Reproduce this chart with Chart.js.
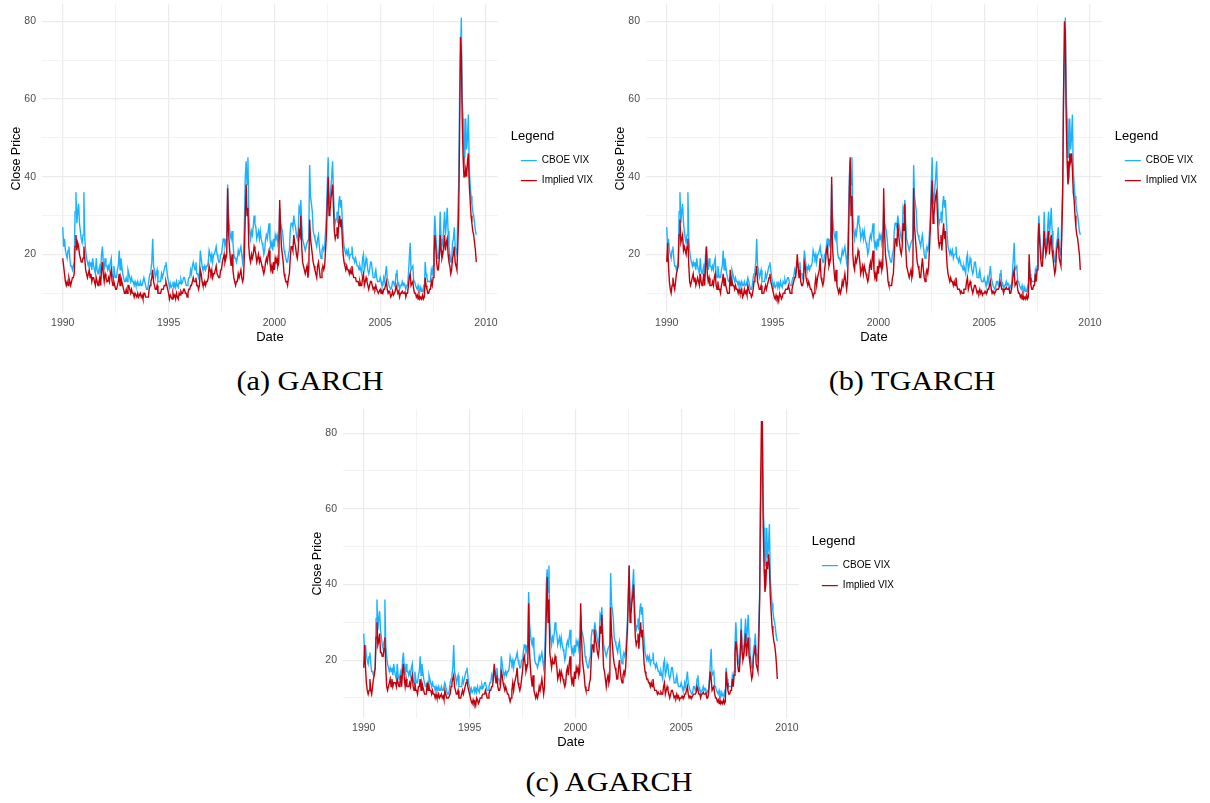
<!DOCTYPE html>
<html>
<head>
<meta charset="utf-8">
<script src="https://cdn.jsdelivr.net/npm/chart.js@4.4.1/dist/chart.umd.min.js"></script>
<style>
  body { margin: 0; background: #fff; width: 1210px; height: 803px; position: relative; overflow: hidden; }
  .panel { position: absolute; }
  .cap { position: absolute; width: 400px; text-align: center; font-family: "Liberation Serif", serif; font-size: 27px; color: #000; transform: scaleX(1.12); }
</style>
</head>
<body>
<div class="panel" style="left:0;top:-8px"><canvas id="chartA" width="604" height="352"></canvas></div>
<div class="panel" style="left:604px;top:-8px"><canvas id="chartB" width="604" height="352"></canvas></div>
<div class="panel" style="left:301px;top:397px"><canvas id="chartC" width="604" height="352"></canvas></div>
<div class="cap" style="left:110px;top:366px">(a) GARCH</div>
<div class="cap" style="left:712px;top:366px">(b) TGARCH</div>
<div class="cap" style="left:409px;top:767px">(c) AGARCH</div>
<script>
// half-monthly observations, Jan 1990 .. Jul 2009
const startYear = 1990;
const perYear = 24;

const cboeVix = [
  27,22,24,21,20,19,21,22,19,17,17,16,17,18,31,36,28,31,33,28,26,24,23,25,
  36,24,21,19,18,17,18,17,18,16,19,17,16,15,19,16,15,16,17,15,20,22,18,16,
  19,17,17,16,17,16,18,19,15,14,17,15,14,14,16,17,21,16,19,17,15,14,13,13,
  14,13,16,15,14,13,14,13,13,12,13,12,12,13,12,12,13,12,12,12,14,13,12,11,
  11,12,14,15,16,18,24,17,16,14,15,16,13,13,13,13,15,14,15,16,17,18,16,14,
  13,11.5,12.5,11.5,12,13,11.5,12.5,11.5,13,12,11.5,13,12.5,13.5,12.5,13,14,14,13,12,12,13,14,
  14,16,15,17,18,17,16,18,15,15,14,15,21,19,17,16,16,17,16,17,17,18,21,20,
  19,20,18,20,20,21,22,20,19,18,18,20,20,22,24,24,22,23,24,38,30,27,25,24,
  26,23,20,19,19,18,19,21,20,20,22,20,18,20,28,40,44,38,45,30,26,24,26,25,
  27,30,28,27,24,25,26,24,26,24,23,22,20,21,24,25,24,26,28,24,22,23,21,24,
  22,25,24,25,23,24,32,28,27,26,24,21,20,19,18,18,20,21,26,28,28,27,30,28,
  27,25,24,26,32,31,34,28,24,23,22,21,22,23,23,24,43,35,33,31,26,25,24,23,
  22,24,25,22,20,19,21,22,21,22,26,30,38,45,33,34,37,40,44,36,30,28,29,31,
  28,33,35,32,34,29,25,22,22,20,21,20,21,19,20,20,22,19,19,18,19,18,17,17,
  16,17,16,15,19,20,16,17,19,18,16,15,16,18,18,16,14,14,15,16,14,13,13,13,
  14,13,12,12,14,13,15,17,14,13,12,12,11,11.5,13,13,12,12.5,15,16,12,12.5,11,12,
  12,13,12,12.5,12,11,12,12,15,19,23,16,16,17,13,13,12,11.5,11,12,11,10.5,11.5,10.5,
  10.5,11.5,10,18,15,14,13,13,13,13,16,15,17,24,30,25,22,19,19,22,31,24,22,23,
  27,31,25,28,32,26,22,20,18,18,23,24,27,22,21,20,30,38,60,70,81,60,55,45,
  45,55,47,50,56,42,38,35,33,31,30,28,26,25
];

const impliedGarch = [
  19,17,15,13,12,13,12,14,13,12,13,14,14,15,22,25,21,23,22,20,19,18,18,19,
  22,19,16,15,14,15,16,14,15,13,14,14,13,12,14,13,12,13,14,12,16,18,15,13,
  15,14,13,13,14,13,15,16,13,12,13,12,11,11,12,13,15,12,14,13,12,11,10,10,
  11,10,12,12,11,10,11,10,10,9,10,10,9,10,9,9.5,10,9,9.5,8.5,10,10,9,9,
  9,9,11,12,13,14,16,13,12,11,11,12,10,10,10,10,11,11,11,12,12,13,12,11,
  10,8.5,9.5,9,8.5,10,9,9.5,8.5,10,9,8.5,10,9.5,10.5,10,10,11,11,10,10,9,10,11,
  11,12,12,13,14,13,13,14,12,12,11,12,16,15,13,12,12,13,12,13,13,14,17,16,
  15,16,14,15,15,16,17,15,15,14,14,16,16,18,19,20,18,19,20,37,26,22,19,17,
  20,16,14,13,12,13,13,15,14,14,16,14,13,14,20,30,38,30,32,22,19,18,20,19,
  20,22,21,20,18,19,20,18,19,18,17,16,15,16,18,19,18,20,21,18,16,17,15,18,
  16,19,18,19,17,18,34,27,22,20,18,15,14,13,13,12,14,15,19,22,22,21,25,23,
  22,20,19,21,26,25,30,22,18,17,16,15,16,17,14,16,29,24,22,20,18,17,16,15,
  14,17,18,16,14,14,16,17,16,17,21,25,33,40,30,31,34,36,38,32,26,24,25,27,
  24,28,30,27,29,24,20,18,17,16,17,16,16,15,16,15,17,15,14,14,14,13,13,13,
  12,13,12,12,14,15,12,13,14,13,12,11,12,13,13,12,11,11.5,11,12,11,10.5,10,10.5,
  11,10,10.5,10,11,11,12,13,11,10,10.5,10,9,9.5,10.5,9.5,10,10.5,12,12,10,10.5,9,10,
  10,10.5,10,10,10.5,9,10,10,12,14,15,12,12,13,11,10,10,9,9.5,8.5,9.5,8.5,9,8.5,
  9.5,8.5,9,14,12,11,10,10,11,11,13,12,14,20,25,22,18,16,16,19,25,21,19,20,
  22,25,21,23,24,20,18,17,15,16,19,20,22,18,17,16,22,30,50,76,72,55,45,40,
  40,42,40,44,46,38,34,30,28,26,25,23,21,18
];

const impliedTgarch = [
  18,23,17,13,11,10,12,14,12,11,13,15,16,17,25,29,23,24,25,21,22,21,20,22,
  24,17,13,12,13,14,15,13,14,12,13,14,13,12,15,13,12,13,15,12,17,22,15,13,
  14,12,12,12,13,12,14,15,12,11,13,11,11,10,12,13,15,12,14,12,11,10,10,10,
  16,12,13,12,12,11,12,11,11,10,11,10,10,11,9,9.5,11,10,10.5,9.5,12,11,10,10,
  9,9.5,11,13,14,15,17,13,12,11,11,12,10,10,10,11,12,11,12,13,14,15,13,12,
  11,10,9,8.5,9.5,8.5,9,8,10,9.5,8.5,9,10,10,10.5,11,11,11,12,11,10,10,11,12,
  13,14,14,16,20,17,14,16,13,12,12,13,18,17,14,13,12,13,12,11,11,10,9,10,
  12,14,12,14,15,16,19,14,13,12,13,16,18,21,22,19,17,18,19,40,22,18,15,13,
  16,12,11,10,11,10,11,13,12,12,15,13,11,13,22,35,45,30,35,20,17,16,19,18,
  19,21,20,18,15,16,17,15,17,16,15,14,13,14,17,18,16,19,21,16,14,15,13,17,
  15,18,17,18,16,17,37,26,20,18,16,13,12,12,12,12,14,15,20,24,24,22,28,25,
  23,21,20,22,28,26,33,22,17,16,15,14,15,16,14,15,37,27,24,21,18,17,16,14,
  14,17,19,16,14,13,15,16,15,17,22,27,34,39,28,30,33,35,36,30,24,22,23,25,
  21,25,28,24,26,21,17,15,15,13,14,13,13,12,13,12,14,12,11,11,11,10,10.5,10,
  10,11,11,11,13,14,11,12,13,12,11,10,11,12,12,11,10,10.5,10,11,10,10.5,9.5,10,
  10,10.5,10,10,11,11,12,13,11,10,10.5,10,10,10.5,11,11,11,11.5,13,13,11,11,10,11,
  11,11.5,11,11,11.5,10,10,11,13,15,16,12,12,13,11,10,10,9,9.5,8.5,9.5,8.5,9,8.5,
  9.5,8.5,9,20,14,12,11,11,12,12,15,13,16,22,28,23,19,17,17,21,26,22,20,21,
  24,26,20,23,25,21,19,17,15,16,21,22,24,19,18,17,25,35,62,80,77,55,44,38,
  40,46,44,46,42,36,34,30,27,25,24,22,20,16
];

const impliedAgarch = [
  18,24,18,14,12,11,12,15,12,11,13,15,16,18,26,30,24,25,27,22,22,21,21,23,
  26,18,13,12,13,14,15,13,15,13,14,14,14,13,15,14,13,14,16,13,17,19,15,13,
  15,13,13,13,14,13,15,16,13,12,14,12,12,11,13,13,15,12,14,13,12,11,11,11,
  14,12,13,12,12,11,12,11,11,10,11,10,10,11,10,10.5,11,10,10.5,9.5,12,11,10,10,
  10,10.5,11,13,14,15,16,13,12,11,11,12,10,10,10,11,12,11,12,13,14,15,13,12,
  11,10,9,8.5,9.5,8.5,9,8,10,9.5,8.5,9,10,10,10.5,11,11,11,12,11,10,10,11,12,
  12,13,13,15,19,16,14,16,13,12,12,13,17,16,14,13,12,13,12,11,11,10,9,10,
  12,14,12,14,15,16,18,14,13,12,13,15,17,20,21,19,17,18,19,35,22,18,15,13,
  16,12,11,10,11,10,11,13,12,12,15,13,11,13,22,32,42,30,36,22,20,18,20,19,
  19,21,20,18,15,16,17,15,17,16,15,14,13,14,17,18,16,19,21,16,14,15,13,17,
  15,18,17,18,16,17,35,26,20,18,16,13,12,12,12,12,14,15,20,24,24,22,28,25,
  24,22,21,23,29,27,32,24,18,17,15,13,15,16,14,15,34,27,24,21,19,18,17,15,
  15,18,20,17,15,14,16,17,16,18,23,28,36,45,30,32,35,37,40,32,26,24,25,27,
  23,27,30,26,28,23,19,17,16,15,15,14,14,13,14,13,15,13,12,12,12,11,11.5,11,
  11,11.5,11,11,13,14,11,12,13,12,11,10,11,12,12,11,10,10.5,10,11,10,10.5,9.5,10,
  10,10.5,10,10,11,11,12,13,11,10,10.5,10,10,10.5,11,11,11,11.5,13,13,11,11,10,11,
  11,11.5,11,11,11.5,10,10,11,14,17,15,12,12,13,11,10,10,9,9.5,8.5,9.5,8.5,9,8.5,
  9.5,8.5,9,17,14,12,11,11,12,12,15,13,16,22,25,23,19,17,17,22,28,22,20,21,
  24,27,21,24,26,21,19,17,15,16,21,22,24,19,18,17,25,36,65,83,83,55,44,38,
  40,46,44,48,45,37,33,29,27,25,24,22,19,15
];

const xTicks = [1990, 1992.5, 1995, 1997.5, 2000, 2002.5, 2005, 2007.5, 2010];
const yTicks = [10, 20, 30, 40, 50, 60, 70, 80];

const blue = '#1ab2ff';
const red = '#c4000c';
const gridCol = '#ebebeb';
const sans = '"Liberation Sans", Arial, sans-serif';

function toPoints(arr) {
  return arr.map((v, i) => ({ x: startYear + i / perYear, y: v }));
}

function makeChart(id, implied, yMin, yMax) {
  new Chart(document.getElementById(id), {
    type: 'line',
    data: {
      datasets: [
        { label: 'CBOE VIX', data: toPoints(cboeVix), borderColor: blue, backgroundColor: blue,
          borderWidth: 1.4, pointRadius: 0, order: 1, pointStyle: 'line' },
        { label: 'Implied VIX', data: toPoints(implied), borderColor: red, backgroundColor: red,
          borderWidth: 1.4, pointRadius: 0, order: 0, pointStyle: 'line' }
      ]
    },
    options: {
      responsive: false,
      animation: false,
      events: [],
      layout: { padding: { top: 0, left: 10, right: 1, bottom: 0 } },
      plugins: {
        tooltip: { enabled: false },
        legend: {
          position: 'right',
          align: 'start',
          title: { display: true, text: 'Legend', position: 'start', color: '#000',
                   font: { family: sans, size: 13 }, padding: { top: 138, bottom: 0 } },
          labels: {
            usePointStyle: true, pointStyleWidth: 16, boxHeight: 10,
            color: '#000', font: { family: sans, size: 10 }, padding: 10,
            sort: (a, b) => a.datasetIndex - b.datasetIndex
          }
        }
      },
      scales: {
        x: {
          type: 'linear', min: 1989.02, max: 2010.56,
          afterBuildTicks: (axis) => { axis.ticks = xTicks.map(v => ({ value: v })); },
          afterFit: (axis) => { axis.height = 31; },
          border: { display: false },
          grid: { color: gridCol, drawTicks: false,
                  lineWidth: (c) => (c.tick && c.tick.value % 5 === 0) ? 1.2 : 0.6 },
          ticks: { autoSkip: false, maxRotation: 0, padding: 5, color: '#4d4d4d',
                   font: { family: sans, size: 10.5, lineHeight: 1 },
                   callback: (v) => v % 5 === 0 ? String(v) : '' },
          title: { display: true, text: 'Date', color: '#000',
                   font: { family: sans, size: 13, lineHeight: 1 }, padding: { top: 1, bottom: 0 } }
        },
        y: {
          min: yMin, max: yMax,
          afterBuildTicks: (axis) => { axis.ticks = yTicks.map(v => ({ value: v })); },
          afterFit: (axis) => { axis.width = 32; },
          border: { display: false },
          grid: { color: gridCol, drawTicks: false,
                  lineWidth: (c) => (c.tick && c.tick.value % 20 === 0) ? 1.2 : 0.6 },
          ticks: { autoSkip: false, padding: 6, color: '#4d4d4d',
                   font: { family: sans, size: 10.5 },
                   callback: (v) => v % 20 === 0 ? String(v) : '' },
          title: { display: true, text: 'Close Price', color: '#000',
                   font: { family: sans, size: 12.5, lineHeight: 1 }, padding: { top: 0, bottom: 0 } }
        },
        // empty strip between the plot and the legend
        gap: {
          position: 'right', display: true,
          afterFit: (axis) => { axis.width = 13; },
          border: { display: false },
          grid: { display: false },
          ticks: { display: false }
        }
      }
    }
  });
}

makeChart('chartA', impliedGarch, 4.9, 84.4);
makeChart('chartB', impliedTgarch, 4.9, 84.4);
makeChart('chartC', impliedAgarch, 4.7, 86.3);
</script>
</body>
</html>
